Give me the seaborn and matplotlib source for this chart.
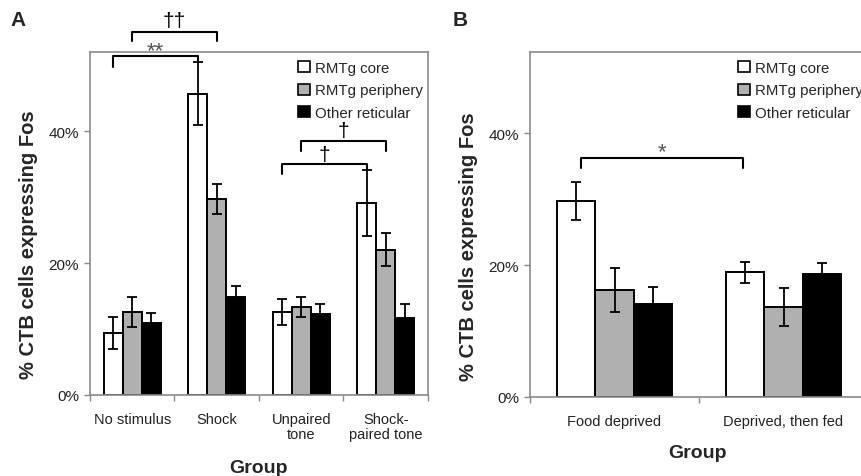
import matplotlib
matplotlib.use("Agg")
import matplotlib.pyplot as plt
import matplotlib.patches as mpatches
import seaborn as sns
import pandas as pd
import numpy as np

regions = ["RMTg core", "RMTg periphery", "Other reticular"]
colors = {"RMTg core": "#ffffff", "RMTg periphery": "#b0b0b0", "Other reticular": "#000000"}

groups_a = ["No stimulus", "Shock", "Unpaired\ntone", "Shock-\npaired tone"]
core_a = [9.4, 45.7, 12.6, 29.1]
core_a_err = [2.5, 4.8, 2.0, 5.0]
peri_a = [12.6, 29.7, 13.3, 22.0]
peri_a_err = [2.3, 2.3, 1.5, 2.5]
other_a = [10.9, 14.8, 12.3, 11.7]
other_a_err = [1.6, 1.7, 1.5, 2.1]

groups_b = ["Food deprived", "Deprived, then fed"]
core_b = [29.7, 18.9]
core_b_err = [2.9, 1.6]
peri_b = [16.2, 13.6]
peri_b_err = [3.3, 2.9]
other_b = [14.1, 18.6]
other_b_err = [2.6, 1.7]

yticks = [0, 20, 40]
ytick_labels = ["0%", "20%", "40%"]

FONT = ["Liberation Sans", "DejaVu Sans"]
sns.set_theme(style="white")
plt.rcParams["font.family"] = FONT

def make_df(groups, vals):
    rows = []
    for reg, v in zip(regions, vals):
        for g, x in zip(groups, v):
            rows.append({"Group": g, "Region": reg, "Value": x})
    return pd.DataFrame(rows)

fig = plt.figure(figsize=(8.62, 4.77), dpi=100)
axA = fig.add_axes([90/862, 81/477, 338/862, 343/477])
axB = fig.add_axes([530/862, 79/477, 338/862, 345/477])

def draw(ax, groups, vals, errs, ylim_top, xlabel_pad):
    df = make_df(groups, vals)
    sns.barplot(data=df, x="Group", y="Value", hue="Region", order=groups,
                hue_order=regions, palette=colors, edgecolor="black",
                linewidth=1.4, width=0.68, errorbar=None, legend=False, ax=ax,
                saturation=1)
    for cont, err in zip(ax.containers, errs):
        xs = [p.get_x() + p.get_width()/2 for p in cont.patches]
        hs = [p.get_height() for p in cont.patches]
        ax.errorbar(xs, hs, yerr=err, fmt="none", ecolor="black",
                    elinewidth=1.3, capsize=3.5, capthick=1.3, zorder=5)
    n = len(groups)
    ax.set_xlim(-0.5, n - 0.5)
    ax.set_ylim(0, ylim_top)
    ax.set_yticks(yticks)
    ax.set_yticklabels(ytick_labels, fontsize=11, color="#222222")
    ax.set_xticks(range(n))
    ax.set_xticklabels(groups, fontsize=10.5, color="#222222", linespacing=1.1)
    ax.set_xticks(np.arange(-0.5, n), minor=True)
    ax.tick_params(axis="x", which="major", length=0, pad=12)
    ax.tick_params(axis="x", which="minor", length=4, width=1, color="#888888", direction="out", bottom=True)
    ax.tick_params(axis="y", length=4, width=1, color="#888888", direction="out", left=True, pad=4)
    for s in ax.spines.values():
        s.set_color("#8a8a8a")
        s.set_linewidth(1.2)
    ax.set_xlabel("Group", fontsize=14, fontweight="bold", labelpad=xlabel_pad)
    ax.set_ylabel("% CTB cells expressing Fos", fontsize=14.5, fontweight="bold")
    ax.yaxis.set_label_coords(-0.155, 0.44)
    handles = [mpatches.Patch(facecolor=colors[r], edgecolor="black", linewidth=1.2, label=r) for r in regions]
    ax.legend(handles=handles, loc="upper left", bbox_to_anchor=(0.59, 1.0),
              frameon=False, fontsize=10.8, handlelength=0.75, handleheight=0.75,
              handletextpad=0.35, labelspacing=0.55, borderaxespad=0.2)

draw(axA, groups_a, [core_a, peri_a, other_a], [core_a_err, peri_a_err, other_a_err], 52, 13)
draw(axB, groups_b, [core_b, peri_b, other_b], [core_b_err, peri_b_err, other_b_err], 52.3, 12)
axB.xaxis.label.set_position((0.495, 0))

def bracket(ax, x1, x2, y, yl, yr, text, ty, fs=12, color="black"):
    ax.plot([x1, x1, x2, x2], [yl, y, y, yr], color="black", lw=1.5, clip_on=False, zorder=6)
    ax.text((x1 + x2) / 2, ty, text, ha="center", va="center", fontsize=fs, color=color, clip_on=False)

bracket(axA, -0.225, 0.775, 51.4, 49.8, 50.6, "**", 52.2, fs=16, color="#555555")
bracket(axA, 0.0, 1.0, 55.1, 53.6, 53.6, "††", 56.8, fs=15)
bracket(axA, 1.775, 2.775, 35.0, 33.5, 34.1, "†", 36.4, fs=15)
bracket(axA, 2.0, 3.0, 38.5, 37.0, 37.0, "†", 40.1, fs=15)
bracket(axB, -0.2, 0.76, 36.2, 34.7, 34.7, "*", 37.2, fs=16, color="#555555")

fig.text(10/862, 1 - 20/477, "A", fontsize=15, fontweight="bold", va="center", ha="left")
fig.text(453/862, 1 - 20/477, "B", fontsize=15, fontweight="bold", va="center", ha="left")

fig.savefig("out.png", dpi=100)
